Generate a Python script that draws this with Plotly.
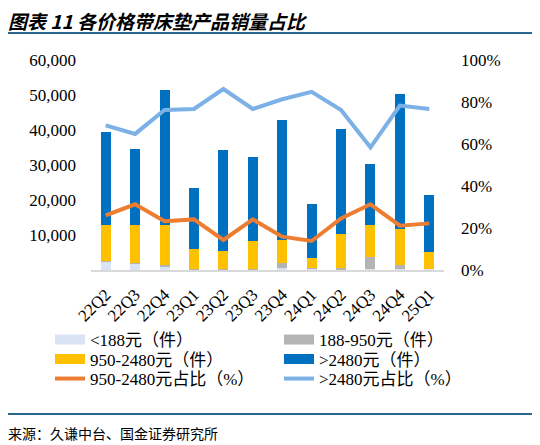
import plotly.graph_objects as go

# 各价格带床垫产品销量（件）与占比（%）
quarters = ['22Q2', '22Q3', '22Q4', '23Q1', '23Q2', '23Q3',
            '23Q4', '24Q1', '24Q2', '24Q3', '24Q4', '25Q1']
below_188 = [2400, 1800, 1050, 250, 200, 200, 650, 300, 200, 200, 250, 300]
p188_950 = [200, 100, 400, 150, 150, 150, 1250, 350, 400, 3450, 1250, 100]
p950_2480 = [10300, 10950, 11500, 5550, 5000, 7800, 6600, 2650, 9800, 9300, 10300, 4700]
above_2480 = [26480, 21620, 38570, 17530, 29050, 24280, 34380, 15430, 29910, 17430, 38480, 16280]
mid_share = [26.0, 31.3, 23.2, 24.1, 14.3, 24.1, 15.9, 13.8, 24.6, 31.3, 21.1, 22.2]
high_share = [68.9, 64.8, 76.2, 76.7, 86.2, 76.7, 81.3, 84.8, 76.2, 58.4, 78.3, 76.7]

# the page body adds an 8px margin, so the figure is 8px smaller than the window
W, H = 532, 437
SERIF = 'Liberation Serif, Noto Sans CJK SC'
RULE = '#2b6690'

# plot area in window pixels: x 91..444, y 60..270
PX0, PX1, PY0, PY1 = 91, 444, 60, 270


def paper_x(px):
    return (px - PX0) / (PX1 - PX0)


def paper_y(py):
    return (PY1 - py) / (PY1 - PY0)


# legend slots (window pixel x of item start, y of row centre), 2 columns x 3 rows
LEGEND_SLOTS = [(50, 340), (279, 340), (50, 359.5), (279, 359.5), (50, 379), (279, 379)]


def create_chart():
    fig = go.Figure()

    bars = [
        ('<188元（件）', below_188, '#dae3f3'),
        ('188-950元（件）', p188_950, '#b4b4b4'),
        ('950-2480元（件）', p950_2480, '#ffc000'),
        ('>2480元（件）', above_2480, '#0070c0'),
    ]
    for i, (name, vals, color) in enumerate(bars):
        fig.add_trace(go.Bar(x=quarters, y=vals, name=name, width=0.34,
                             marker=dict(color=color, line=dict(width=0)),
                             showlegend=False))
        # wide swatch for the legend, like the original
        fig.add_trace(go.Scatter(x=[None], y=[None], mode='lines', name=name,
                                 legend='legend' if i == 0 else f'legend{i + 1}',
                                 line=dict(color=color, width=10)))

    fig.add_trace(go.Scatter(x=quarters, y=mid_share, yaxis='y2', mode='lines',
                             name='950-2480元占比（%）', legend='legend5',
                             line=dict(color='#ed7d31', width=4)))
    fig.add_trace(go.Scatter(x=quarters, y=high_share, yaxis='y2', mode='lines',
                             name='>2480元占比（%）', legend='legend6',
                             line=dict(color='#7cb1e6', width=4)))

    fig.update_layout(
        width=W, height=H,
        margin=dict(l=PX0 - 8, r=W - (PX1 - 8), t=PY0 - 8, b=H - (PY1 - 8)),
        barmode='stack',
        plot_bgcolor='white', paper_bgcolor='white',
        font=dict(family=SERIF, size=17, color='#000000'),
        xaxis=dict(type='category', showline=True, linecolor='#d9d9d9', linewidth=2,
                   tickangle=-45, ticks='', ticklabelstandoff=6, showgrid=False,
                   automargin=False),
        yaxis=dict(range=[0, 60000], tickvals=[10000, 20000, 30000, 40000, 50000, 60000],
                   tickformat=',', showgrid=False, zeroline=False, ticklabelstandoff=14,
                   automargin=False),
        yaxis2=dict(range=[0, 100], dtick=20, ticksuffix='%', overlaying='y', side='right',
                    showgrid=False, zeroline=False, ticklabelstandoff=16,
                    automargin=False),
    )

    # one small legend per slot so the rows sit as tight as in the original
    for i, (px_x, px_y) in enumerate(LEGEND_SLOTS):
        key = 'legend' if i == 0 else f'legend{i + 1}'
        fig.update_layout(**{key: dict(
            x=paper_x(px_x), y=paper_y(px_y),
            xanchor='left', yanchor='middle', orientation='h',
            font=dict(family=SERIF, size=17), bgcolor='rgba(0,0,0,0)',
            borderwidth=0)})

    # title, rules and source
    fig.add_annotation(text='<b><i>图表 11 各价格带床垫产品销量占比</i></b>',
                       xref='paper', yref='paper', x=paper_x(6), y=paper_y(20),
                       xanchor='left', yanchor='middle', showarrow=False,
                       font=dict(family='Noto Sans CJK SC', size=19, color='#000000'))
    for ypix in (33, 414):
        fig.add_shape(type='line', xref='paper', yref='paper', layer='above',
                      x0=paper_x(5), x1=paper_x(535), y0=paper_y(ypix), y1=paper_y(ypix),
                      line=dict(color=RULE, width=2))
    fig.add_annotation(text='来源：久谦中台、国金证券研究所', xref='paper', yref='paper',
                       x=paper_x(6), y=paper_y(433), xanchor='left', yanchor='middle',
                       showarrow=False,
                       font=dict(family='Noto Sans CJK SC', size=14, color='#000000'))

    fig.write_html('out.html')


if __name__ == '__main__':
    create_chart()
